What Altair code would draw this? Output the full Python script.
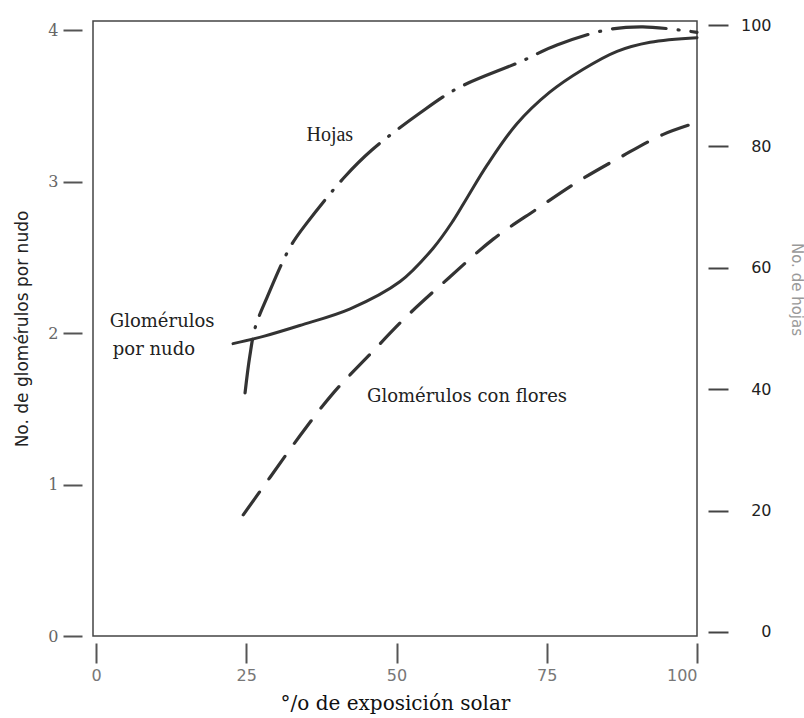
import altair as alt
import pandas as pd

# ---- data ----
# Glomérulos por nudo (left axis, solid)
glom_x = [22.8, 28.0, 33.9, 42.3, 50.6, 56.1, 59.4, 61.7, 65.1, 70.0, 75.5, 81.0, 86.7, 92.2, 100]
glom_y = [1.93, 1.98, 2.05, 2.16, 2.34, 2.56, 2.74, 2.89, 3.11, 3.38, 3.59, 3.74, 3.86, 3.92, 3.95]

# Glomérulos con flores (left axis, dashed)
flor_x = [24.5, 29.0, 33.9, 39.4, 45.6, 51.7, 58.6, 66.1, 73.4, 80.2, 87.2, 94.3, 100]
flor_y = [0.80, 1.05, 1.32, 1.60, 1.86, 2.11, 2.36, 2.62, 2.82, 3.00, 3.16, 3.31, 3.39]

# Hojas (right axis, dash-dot)
hoja_x = [24.8, 25.6, 26.5, 28.5, 32.3, 35.1, 41.4, 45.9, 53.9, 60.2, 70.5, 76.7, 85.0, 91.0, 100]
hoja_y = [39.4, 45.5, 50.2, 55.2, 63.4, 67.4, 75.0, 79.4, 85.5, 89.6, 93.9, 96.7, 99.2, 99.7, 98.8]

# tick values
x_ticks = [0, 25, 50, 75, 100]
left_ticks = [0, 1, 2, 3, 4]
right_ticks = [0, 20, 40, 60, 80, 100]

# curve labels (in data units of x and left axis)
lab_text = ["Glomérulos", "por nudo", "Glomérulos con flores"]
lab_x = [2.3, 2.8, 45.1]
lab_y = [2.07, 1.89, 1.58]
hojas_text = ["Hojas"]
hojas_lx = [38.9]
hojas_ly = [3.31]

df_glom = pd.DataFrame({"x": glom_x, "v": glom_y})
df_flor = pd.DataFrame({"x": flor_x, "v": flor_y})
df_hoja = pd.DataFrame({"x": hoja_x, "h": hoja_y})
df_lab = pd.DataFrame({"t": lab_text, "x": lab_x, "v": lab_y})
df_hlab = pd.DataFrame({"t": hojas_text, "x": hojas_lx, "v": hojas_ly})

INK = "#333333"

x_scale = alt.Scale(domain=[-0.5, 100], nice=False, zero=False)
x_axis = alt.Axis(
    title="°/o de exposición solar", values=x_ticks, format="d",
    offset=7, tickSize=20, tickWidth=2, tickColor="#555",
    domain=False, grid=False,
    labelFont="DejaVu Sans", labelFontSize=16, labelColor="#777", labelPadding=4,
    titleFont="DejaVu Serif", titleFontSize=20, titleFontWeight="normal",
    titleColor="#111", titlePadding=10,
)
left_scale = alt.Scale(domain=[0, 4.06], nice=False, zero=False)
left_axis = alt.Axis(
    orient="left", title="No. de glomérulos por nudo", values=left_ticks, format="d",
    offset=11, tickSize=19, tickWidth=2, tickColor="#555",
    domain=False, grid=False,
    labelFont="DejaVu Serif", labelFontSize=16, labelColor="#666", labelPadding=5,
    titleFont="DejaVu Sans", titleFontSize=17, titleFontWeight="normal",
    titleColor="#222", titlePadding=16,
)
right_scale = alt.Scale(domain=[-0.66, 100.66], nice=False, zero=False)
right_axis = alt.Axis(
    orient="right", title="No. de hojas", values=right_ticks, format="d",
    offset=11, tickSize=20, tickWidth=2, tickColor="#444",
    domain=False, grid=False,
    labelFont="DejaVu Sans", labelFontSize=16, labelColor="#222",
    labelAlign="right", labelPadding=43,
    titleFont="DejaVu Sans", titleFontSize=15, titleFontWeight="normal",
    titleColor="#999", titleAngle=90, titleBaseline="middle",
    titleX=88, titleY=268,
)

X = alt.X("x:Q", scale=x_scale, axis=x_axis)
YL = alt.Y("v:Q", scale=left_scale, axis=left_axis)

solid = alt.Chart(df_glom).mark_line(
    color=INK, strokeWidth=3, interpolate="catmull-rom", strokeCap="round"
).encode(x=X, y=YL)

dashed = alt.Chart(df_flor).mark_line(
    color=INK, strokeWidth=3.2, interpolate="catmull-rom", strokeCap="round",
    strokeDash=[28, 16]
).encode(x=X, y=YL)

labels = alt.Chart(df_lab).mark_text(
    align="left", baseline="middle", font="DejaVu Serif", fontSize=18, color="#222"
).encode(x=X, y=YL, text="t:N")

hlabel = alt.Chart(df_hlab).mark_text(
    align="center", baseline="middle", font="Liberation Serif", fontSize=20, color="#222"
).encode(x=X, y=YL, text="t:N")

hojas = alt.Chart(df_hoja).mark_line(
    color=INK, strokeWidth=3.2, interpolate="catmull-rom", strokeCap="round",
    strokeDash=[54, 12, 1, 12]
).encode(x=X, y=alt.Y("h:Q", scale=right_scale, axis=right_axis))

left = alt.layer(solid, dashed, labels, hlabel)

chart = (
    alt.layer(left, hojas)
    .resolve_scale(y="independent")
    .properties(
        width=604, height=615,
        padding={"left": 93, "top": 21, "right": 107, "bottom": 82},
        autosize=alt.AutoSizeParams(type="none"),
        background="white",
    )
    .configure_view(stroke="#444", strokeWidth=1.5)
)

chart.save("out.html", embed_options={"renderer": "svg", "actions": False})
